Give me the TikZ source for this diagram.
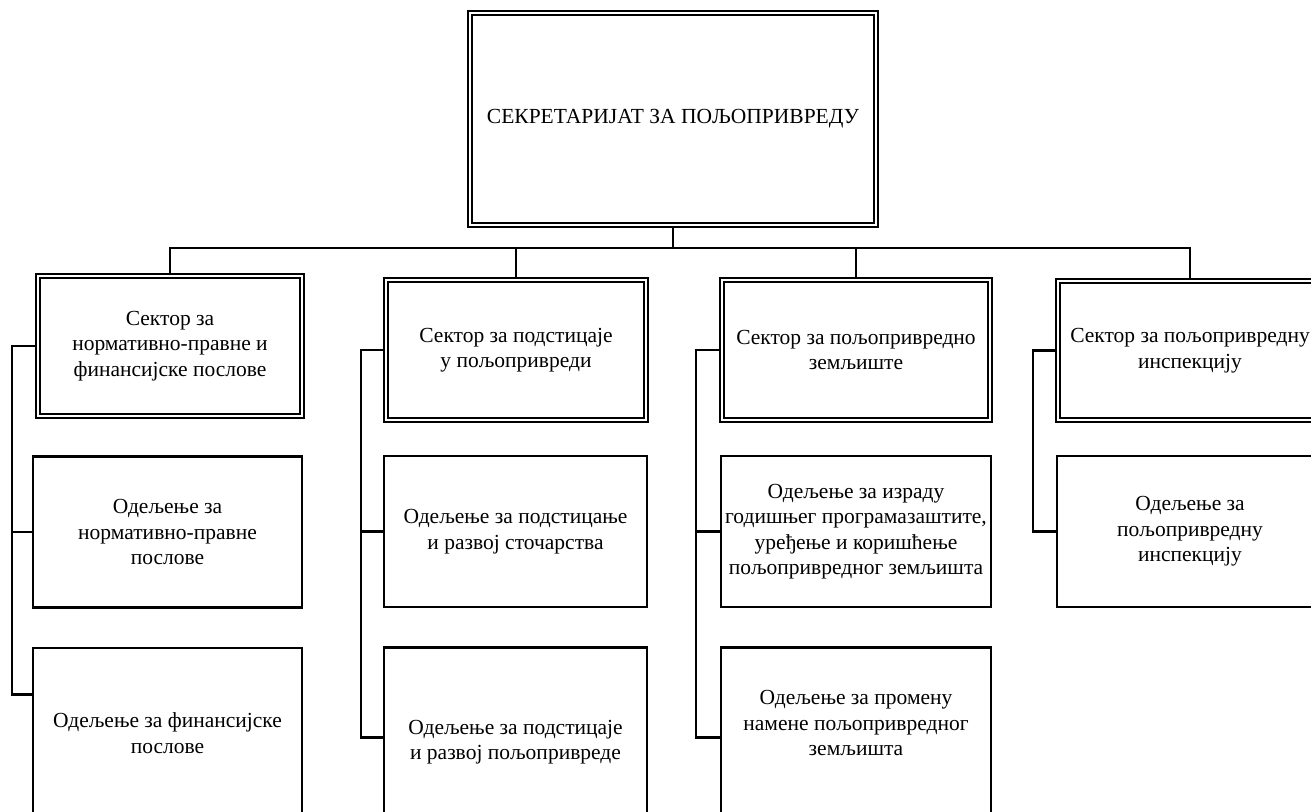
\documentclass[tikz,border=0pt]{standalone}
\usepackage{fontspec}
\setmainfont{Liberation Serif}
\newcommand\myfs{\fontsize{21.5}{25.5}\selectfont}
\begin{document}
\begin{tikzpicture}[x=1pt,y=-1pt,
  dbox/.style={draw, line width=2.2pt, double, double distance=2pt, inner sep=0pt, outer sep=3.2pt, align=center, font=\myfs},
  sbox/.style={draw, line width=2.6pt, inner sep=0pt, outer sep=1.3pt, align=center, font=\myfs},
  txt/.style={inner sep=0pt, align=center, font=\myfs},
  conn/.style={line width=2.6pt}]
\useasboundingbox (0,0) rectangle (1311,811);
\fill[white] (0,0) rectangle (1311,811);
\clip (0,0) rectangle (1311,811);

% top
\node[dbox, minimum width=406pt, minimum height=212pt] (top) at (673,119) {СЕКРЕТАРИЈАТ ЗА ПОЉОПРИВРЕДУ};

% sectors
\node[dbox, minimum width=264pt, minimum height=140pt] (s1) at (170,346) {Сектор за\\нормативно-правне и\\финансијске послове};
\node[dbox, minimum width=260pt, minimum height=140pt] (s2) at (516,350) {Сектор за подстицаје\\у пољопривреди};
\node[dbox, minimum width=268pt, minimum height=140pt] (s3) at (856,350) {Сектор за пољопривредно\\земљиште};
\node[dbox, minimum width=264pt, minimum height=139pt] (s4) at (1190,350.5) {Сектор за пољопривредну\\инспекцију};

% departments, first row
\node[sbox, minimum width=269pt, minimum height=151pt] (d11) at (167.5,532) {Одељење за\\нормативно-правне\\послове};
\node[sbox, minimum width=263pt, minimum height=151pt] (d21) at (515.5,531.5) {Одељење за подстицање\\и развој сточарства};
\node[sbox, minimum width=270pt, minimum height=151pt] (d31) at (856,531.5) {Одељење за израду\\годишњег програмазаштите,\\уређење и коришћење\\пољопривредног земљишта};
\node[sbox, minimum width=266pt, minimum height=151pt] (d41) at (1190,531.5) {Одељење за\\пољопривредну\\инспекцију};

% departments, second row (cut by the lower edge)
\node[sbox, minimum width=269pt, minimum height=180pt] (d12) at (167.5,738) {};
\node[sbox, minimum width=263pt, minimum height=180pt] (d22) at (515.5,737.5) {};
\node[sbox, minimum width=270pt, minimum height=180pt] (d32) at (856,737.5) {};
\node[txt] (d12t) at (167.5,733) {Одељење за финансијске\\послове};
\node[txt] (d22t) at (515.5,742) {Одељење за подстицаје\\и развој пољопривреде};
\node[txt] (d32t) at (856,723) {Одељење за промену\\намене пољопривредног\\земљишта};

% connectors from the top
\coordinate (bus) at (673,248);
\draw[conn] (top.south) -- (bus);
\draw[conn] (s1.north) |- (bus) -| (s4.north);
\draw[conn] (s2.north) -- (s2.north |- bus);
\draw[conn] (s3.north) -- (s3.north |- bus);

% side trunks
\coordinate (t1) at (12,0);
\coordinate (t2) at (361,0);
\coordinate (t3) at (696,0);
\coordinate (t4) at (1033,0);
\coordinate (d12j) at ([yshift=-48pt]d12.north west);

\draw[conn] (s1.west) -- (s1.west -| t1) |- (d12j);
\draw[conn] (d11.west) -- (d11.west -| t1);

\draw[conn] (s2.west) -- (s2.west -| t2) |- (d22.west);
\draw[conn] (d21.west) -- (d21.west -| t2);

\draw[conn] (s3.west) -- (s3.west -| t3) |- (d32.west);
\draw[conn] (d31.west) -- (d31.west -| t3);

\draw[conn] (s4.west) -- (s4.west -| t4) |- (d41.west);
\end{tikzpicture}
\end{document}
